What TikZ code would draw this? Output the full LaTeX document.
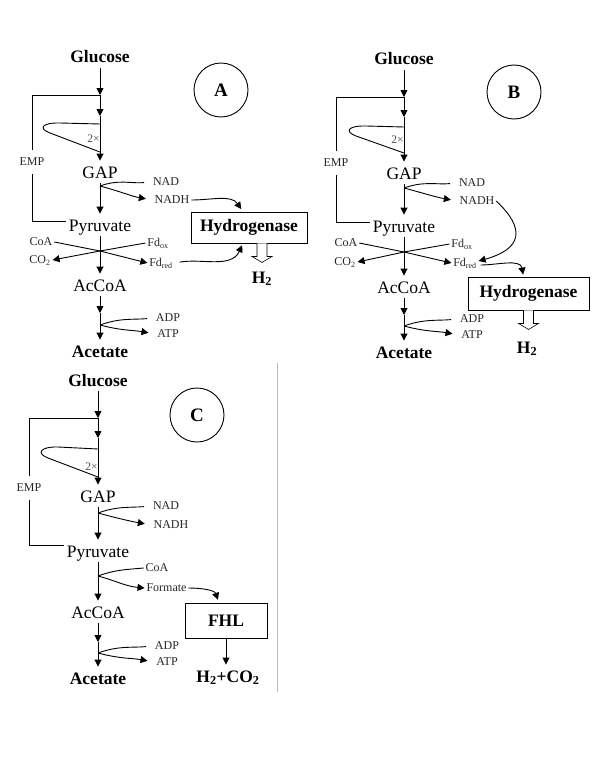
\documentclass[tikz,border=0pt]{standalone}
\usepackage{fontspec}
\setmainfont{Liberation Serif}
\usetikzlibrary{positioning,arrows.meta}

\begin{document}
\begin{tikzpicture}[
            x=1pt, y=1pt, line width=0.9pt,
            >={Triangle[length=7pt,width=7pt]},
            met/.style={ font=\fontsize{17.5}{20}\selectfont, inner xsep=2pt, inner ysep=5pt, text height=12pt, text depth=0pt },
            metb/.style={ met, font=\fontsize{17.5}{20}\selectfont\bfseries },
            cof/.style={ font=\fontsize{12}{14}\selectfont, text=black!85, inner sep=1.5pt, text height=9pt, text depth=2.5pt },
            rep/.style={ font=\fontsize{11.5}{13}\selectfont, text=black!70, inner sep=0pt },
            enz/.style={ draw, font=\fontsize{17.5}{20}\selectfont\bfseries, inner sep=0pt },
            panel/.style={ draw, circle, minimum size=54pt, inner sep=0pt, font=\fontsize{19}{22}\selectfont\bfseries },
            hollow/.style={ fill=white, line width=0.6pt }
        ]
        \useasboundingbox (0,0) rectangle (600,-776);

        % panel A
        \begin{scope}[shift={(100,-57)}]
        \node[metb] (glcA) at (0,0) {Glucose};
        \coordinate (topA) at (0,-38);
        \coordinate (midA) at (0,-59);
        \node[met] (gapA) at (0,-115) {GAP};
        \node[met] (pyrA) at (0,-168) {Pyruvate};
        \node[met] (accA) at (0,-228) {AcCoA};
        \node[metb] (aceA) at (0,-294) {Acetate};
        \node[panel] (tagA) at (121,-33) {A};

        \draw[->] (glcA) -- (topA);
        \draw[->] (topA) -- (midA);
        \draw[->] (midA) -- (gapA);
        \draw (0,-67) -- (-40,-66) .. controls (-58,-65.5) and (-62,-71.5) .. (-50,-76) -- (0,-95);
        \node[rep, anchor=east] at (0,-82) {2×};

        \node[cof, inner ysep=6pt] (empA) at (-68,-105) {EMP};
        \draw (topA) -| (empA.north);
        \draw (empA.south) |- ([yshift=4pt]pyrA.west);

        \coordinate (nA) at (0,-129);
        \node[cof] (nadA) at (66,-125) {NAD};
        \node[cof] (nadhA) at (72,-143) {NADH};
        \draw[->] (gapA) -- (pyrA);
        \draw[shorten >=7pt] (nA) to[out=20,in=185] (nadA.west);
        \draw[->, shorten >=7pt] (nA) to[out=-15,in=170] (nadhA.west);

        \coordinate (xA) at (0,-194);
        \node[cof] (coaA) at (-59,-185) {CoA};
        \node[cof] (co2A) at (-60,-203) {CO\textsubscript{2}};
        \node[cof] (fdoxA) at (58,-186) {Fd\textsubscript{ox}};
        \node[cof] (fdredA) at (61,-206) {Fd\textsubscript{red}};
        \draw[->] (pyrA) -- (accA);
        \draw[->] (coaA.east) -- (xA) -- (fdredA.west);
        \draw[->] (fdoxA.west) -- (xA) -- (co2A.east);

        \coordinate (lowA) at (0,-256);
        \coordinate (pA) at (0,-268);
        \node[cof] (adpA) at (68,-261) {ADP};
        \node[cof] (atpA) at (68,-277) {ATP};
        \draw[->] (accA) -- (lowA);
        \draw[->] (lowA) -- (aceA);
        \draw[shorten >=7pt] (pA) to[out=20,in=185] (adpA.west);
        \draw[->, shorten >=7pt] (pA) to[out=-15,in=170] (atpA.west);

        \node[enz, minimum width=116pt, minimum height=31pt] (hydA) at (149,-170.5) {Hydrogenase};
        \draw[hollow] ([xshift=18pt]hydA.south) -- ++(0,-13) -- ++(5,0) -- ++(-10,-6) -- ++(-10,6) -- ++(5,0) -- ++(0,13);
        \node[metb] (h2A) at (162,-220) {H\textsubscript{2}};
        \draw[->, shorten >=3pt] (nadhA.east) to[out=0,in=125] ([xshift=-6pt]hydA.north);
        \draw[->, shorten <=5pt, shorten >=2pt] (fdredA.east) to[out=10,in=-115] ([xshift=-6pt]hydA.south);
        \end{scope}

        % panel B
        \begin{scope}[shift={(404,-59)}]
        \node[metb] (glcB) at (0,0) {Glucose};
        \coordinate (topB) at (0,-38);
        \coordinate (midB) at (0,-58);
        \node[met] (gapB) at (0,-114) {GAP};
        \node[met] (pyrB) at (0,-167) {Pyruvate};
        \node[met] (accB) at (0,-228) {AcCoA};
        \node[metb] (aceB) at (0,-293) {Acetate};
        \node[panel] (tagB) at (110,-33) {B};

        \draw[->] (glcB) -- (topB);
        \draw[->] (topB) -- (midB);
        \draw[->] (midB) -- (gapB);
        \draw (0,-68) -- (-38,-67) .. controls (-56,-66.5) and (-60,-72.5) .. (-48,-77) -- (0,-94);
        \node[rep, anchor=east] at (0,-81) {2×};

        \node[cof, inner ysep=6pt] (empB) at (-68,-104) {EMP};
        \draw (topB) -| (empB.north);
        \draw (empB.south) |- ([yshift=4pt]pyrB.west);

        \coordinate (nB) at (0,-129);
        \node[cof] (nadB) at (68,-124) {NAD};
        \node[cof] (nadhB) at (73,-142) {NADH};
        \draw[->] (gapB) -- (pyrB);
        \draw[shorten >=7pt] (nB) to[out=20,in=185] (nadB.west);
        \draw[->, shorten >=7pt] (nB) to[out=-15,in=170] (nadhB.west);

        \coordinate (xB) at (0,-193);
        \node[cof] (coaB) at (-58,-184) {CoA};
        \node[cof] (co2B) at (-59,-203) {CO\textsubscript{2}};
        \node[cof] (fdoxB) at (58,-185) {Fd\textsubscript{ox}};
        \node[cof] (fdredB) at (61,-204) {Fd\textsubscript{red}};
        \draw[->] (pyrB) -- (accB);
        \draw[->] (coaB.east) -- (xB) -- (fdredB.west);
        \draw[->] (fdoxB.west) -- (xB) -- (co2B.east);

        \coordinate (lowB) at (0,-256);
        \coordinate (pB) at (0,-267);
        \node[cof] (adpB) at (68,-260) {ADP};
        \node[cof] (atpB) at (68,-276) {ATP};
        \draw[->] (accB) -- (lowB);
        \draw[->] (lowB) -- (aceB);
        \draw[shorten >=7pt] (pB) to[out=20,in=185] (adpB.west);
        \draw[->, shorten >=7pt] (pB) to[out=-15,in=170] (atpB.west);

        \node[enz, minimum width=121pt, minimum height=33pt] (hydB) at (124.5,-234.5) {Hydrogenase};
        \draw[hollow] ([xshift=5pt]hydB.south) -- ++(0,-13) -- ++(5,0) -- ++(-10,-6) -- ++(-10,6) -- ++(5,0) -- ++(0,13);
        \node[metb] (h2B) at (123,-288) {H\textsubscript{2}};
        \draw[->] (nadhB.east) .. controls (122,-170) and (118,-190) .. ([yshift=2pt]fdredB.east);
        \draw[->, shorten <=2pt, shorten >=2pt] ([yshift=-2pt]fdredB.east) to[out=0,in=100] ([xshift=-5pt]hydB.north);
        \end{scope}

        % panel C
        \begin{scope}[shift={(98,-380)}]
        \node[metb] (glcC) at (0,0) {Glucose};
        \coordinate (topC) at (0,-38);
        \coordinate (midC) at (0,-58);
        \node[met] (gapC) at (0,-116) {GAP};
        \node[met] (pyrC) at (0,-171) {Pyruvate};
        \node[met] (accC) at (0,-232) {AcCoA};
        \node[metb] (aceC) at (0,-298) {Acetate};
        \node[panel] (tagC) at (99,-35) {C};

        \draw[->] (glcC) -- (topC);
        \draw[->] (topC) -- (midC);
        \draw[->] (midC) -- (gapC);
        \draw (0,-69) -- (-40,-67) .. controls (-58,-66.5) and (-62,-73.5) .. (-50,-78) -- (0,-97);
        \node[rep, anchor=east] at (0,-87) {2×};

        \node[cof, inner ysep=6pt] (empC) at (-69,-108) {EMP};
        \draw (topC) -| (empC.north);
        \draw (empC.south) |- ([yshift=6pt]pyrC.west);

        \coordinate (nC) at (0,-133);
        \node[cof] (nadC) at (68,-126) {NAD};
        \node[cof] (nadhC) at (73,-145) {NADH};
        \draw[->] (gapC) -- (pyrC);
        \draw[shorten >=7pt] (nC) to[out=20,in=185] (nadC.west);
        \draw[->, shorten >=7pt] (nC) to[out=-15,in=170] (nadhC.west);

        \coordinate (fC) at (0,-196);
        \node[cof] (coaC) at (59,-188) {CoA};
        \node[cof] (fmtC) at (68.5,-208) {Formate};
        \draw[->] (pyrC) -- (accC);
        \draw (fC) to[out=20,in=185] (coaC.west);
        \draw[->] (fC) to[out=-15,in=175] (fmtC.west);

        \coordinate (lowC) at (0,-262);
        \coordinate (pC) at (0,-273);
        \node[cof] (adpC) at (69,-266) {ADP};
        \node[cof] (atpC) at (69,-282) {ATP};
        \draw[->] (accC) -- (lowC);
        \draw[->] (lowC) -- (aceC);
        \draw[shorten >=7pt] (pC) to[out=20,in=185] (adpC.west);
        \draw[->, shorten >=7pt] (pC) to[out=-15,in=170] (atpC.west);

        \node[enz, minimum width=82pt, minimum height=35pt] (fhlC) at (128,-240.5) {FHL};
        \node[metb] (gasC) at (130,-296) {H\textsubscript{2}+CO\textsubscript{2}};
        \draw[->, shorten >=3pt] (fmtC.east) to[out=0,in=110] ([xshift=-7pt]fhlC.north);
        \draw[->] (fhlC.south) -- (fhlC.south |- gasC.north);
        \end{scope}

        \draw[gray!55, line width=0.7pt] (277,-363) -- (277,-692);
    \end{tikzpicture}
\end{document}
